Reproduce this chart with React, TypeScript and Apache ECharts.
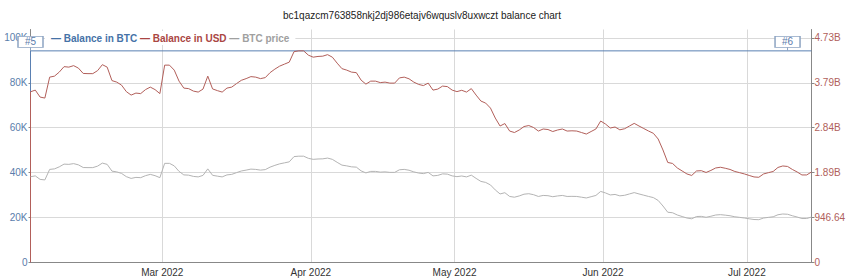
import React, { useEffect, useRef } from 'react';
import * as echarts from 'echarts';

const TITLE = 'bc1qazcm763858nkj2dj986etajv6wquslv8uxwczt balance chart';
const SERIES_NAMES = ['Balance in BTC', 'Balance in USD', 'BTC price'];
const MONTHS = ['Jan', 'Feb', 'Mar', 'Apr', 'May', 'Jun', 'Jul', 'Aug', 'Sep', 'Oct', 'Nov', 'Dec'];

// first daily observation: 1 Feb 2022, 12:00; one point per day afterwards
const START = { year: 2022, month: 1, day: 1, hour: 12 };

// Balance in BTC (thousands of BTC): funded at the start, constant afterwards
const btcBalanceDays = [0, 0, 163];
const btcBalanceK = [0, 94.22, 94.22];

// Balance in USD (billions) – first value is the moment before funding
const usdBillions = [
  0,
  3.597, 3.633, 3.486, 3.465, 3.906, 3.927, 4.012, 4.127, 4.117, 4.148,
  4.096, 3.984, 3.980, 3.980, 4.043, 4.169, 4.117, 3.833, 3.801, 3.738,
  3.601, 3.528, 3.570, 3.559, 3.643, 3.696, 3.643, 3.559, 4.159, 4.159,
  4.054, 3.822, 3.675, 3.664, 3.612, 3.591, 3.654, 3.927, 3.658, 3.622,
  3.591, 3.675, 3.696, 3.770, 3.839, 3.875, 3.917, 3.906, 3.875, 3.896,
  4.001, 4.075, 4.138, 4.180, 4.222, 4.443, 4.460, 4.460, 4.369, 4.327,
  4.342, 4.348, 4.380, 4.327, 4.201, 4.085, 4.054, 4.012, 4.001, 3.843,
  3.759, 3.822, 3.822, 3.791, 3.801, 3.780, 3.780, 3.890, 3.906, 3.871,
  3.801, 3.753, 3.728, 3.780, 3.633, 3.654, 3.717, 3.707, 3.633, 3.601,
  3.629, 3.591, 3.664, 3.528, 3.402, 3.359, 3.254, 3.044, 2.876, 2.928,
  2.770, 2.739, 2.792, 2.865, 2.886, 2.844, 2.770, 2.813, 2.802, 2.760,
  2.792, 2.813, 2.770, 2.775, 2.770, 2.739, 2.707, 2.760, 2.813, 2.981,
  2.918, 2.834, 2.855, 2.796, 2.819, 2.876, 2.932, 2.876, 2.823, 2.770,
  2.722, 2.602, 2.371, 2.108, 2.087, 1.992, 1.929, 1.866, 1.834, 1.929,
  1.935, 1.897, 1.940, 1.992, 2.007, 1.986, 1.961, 1.918, 1.893, 1.866,
  1.834, 1.803, 1.796, 1.866, 1.893, 1.918, 2.003, 2.034, 2.024, 1.961,
  1.908, 1.845, 1.845, 1.908,
];
const usdDays = [0, ...Array.from({ length: usdBillions.length - 1 }, (_, i) => i)];

// BTC price (thousands of USD), daily
const priceK = [
  38.18, 38.56, 37.00, 36.77, 41.45, 41.68, 42.58, 43.80, 43.69, 44.02,
  43.47, 42.28, 42.24, 42.24, 42.91, 44.25, 43.69, 40.68, 40.34, 39.67,
  38.22, 37.44, 37.89, 37.77, 38.66, 39.23, 38.66, 37.77, 44.14, 44.14,
  43.02, 40.56, 39.00, 38.89, 38.33, 38.11, 38.78, 41.68, 38.82, 38.44,
  38.11, 39.00, 39.23, 40.01, 40.74, 41.13, 41.57, 41.45, 41.13, 41.35,
  42.46, 43.25, 43.92, 44.36, 44.81, 47.15, 47.33, 47.33, 46.37, 45.92,
  46.08, 46.15, 46.49, 45.92, 44.59, 43.35, 43.02, 42.58, 42.46, 40.79,
  39.89, 40.56, 40.56, 40.23, 40.34, 40.12, 40.12, 41.28, 41.45, 41.08,
  40.34, 39.83, 39.57, 40.12, 38.56, 38.78, 39.45, 39.34, 38.56, 38.22,
  38.51, 38.11, 38.89, 37.44, 36.10, 35.65, 34.53, 32.31, 30.52, 31.08,
  29.40, 29.07, 29.63, 30.41, 30.63, 30.18, 29.40, 29.85, 29.74, 29.29,
  29.63, 29.85, 29.40, 29.45, 29.40, 29.07, 28.73, 29.29, 29.85, 31.64,
  30.97, 30.08, 30.30, 29.67, 29.92, 30.52, 31.12, 30.52, 29.96, 29.40,
  28.89, 27.62, 25.16, 22.37, 22.15, 21.14, 20.47, 19.80, 19.46, 20.47,
  20.54, 20.13, 20.59, 21.14, 21.30, 21.08, 20.81, 20.36, 20.09, 19.80,
  19.46, 19.14, 19.06, 19.80, 20.09, 20.36, 21.26, 21.59, 21.48, 20.81,
  20.25, 19.58, 19.58, 20.25,
];

// annotations on the BTC balance line
const annotationLabels = ['#5', '#6'];
const annotationDays = [0, 158];

// axis ticks
const leftTickStep = 20; // K
const rightTickStep = 0.94664; // B

const COLORS = {
  btc: '#4572A7',
  usd: '#AA4643',
  price: '#a0a0a0',
  btcLine: '#5a80b2',
  usdLine: '#b25f5a',
  priceLine: '#b4b4b4',
};
const FONT = '"Liberation Sans", Arial, Helvetica, sans-serif';
const DAY_MS = 86400000;

const dayToTime = (d: number) =>
  new Date(START.year, START.month, START.day + d, START.hour).getTime();

const isMultiple = (v: number, step: number) =>
  Math.abs(v / step - Math.round(v / step)) < 1e-6;

export default function App() {
  const ref = useRef<HTMLDivElement>(null);

  useEffect(() => {
    document.body.style.margin = '0';
    if (!ref.current) return;
    const chart = echarts.init(ref.current, null, { renderer: 'svg' });

    const btcData = btcBalanceK.map((v, i) => [dayToTime(btcBalanceDays[i]), v]);
    const usdData = usdBillions.map((v, i) => [dayToTime(usdDays[i]), v]);
    const priceData = priceK.map((v, i) => [dayToTime(i), v]);

    const leftMax = 103.73;
    const rightMax = 4.9099;
    const leftSplitColors = ['#d9d9d9', '#d9d9d9', '#d9d9d9', '#d9d9d9', '#d9d9d9', '#d9d9d9', 'rgba(0,0,0,0)'];

    const markData: any[] = [];
    annotationLabels.forEach((label, i) => {
      const coord = [dayToTime(annotationDays[i]), btcBalanceK[1]];
      markData.push({
        name: '',
        coord,
        symbol: 'rect',
        symbolSize: [1, 4],
        symbolOffset: [0, -2],
        itemStyle: { color: '#8da4c2', borderWidth: 0 },
        label: { show: false },
      });
      markData.push({ name: label, coord });
    });

    const option: any = {
      animation: false,
      backgroundColor: '#ffffff',
      textStyle: { fontFamily: FONT },
      title: {
        text: TITLE,
        left: 283,
        top: 10,
        padding: 0,
        textStyle: { fontSize: 10, fontWeight: 'normal', color: '#222', fontFamily: FONT },
      },
      grid: { left: 30.5, right: 38.5, top: 29.5, bottom: 16.5, containLabel: false },
      xAxis: {
        type: 'time',
        min: 'dataMin',
        max: 'dataMax',
        splitNumber: 5,
        minInterval: 28 * DAY_MS,
        maxInterval: 31 * DAY_MS,
        axisLine: { show: true, lineStyle: { color: '#888', width: 1 } },
        axisTick: { show: false },
        axisLabel: {
          color: '#333',
          fontSize: 10,
          margin: 5,
          fontFamily: FONT,
          hideOverlap: false,
          formatter: (v: number) => {
            const d = new Date(v);
            if (d.getDate() !== 1 || d.getHours() !== 0) return '';
            return MONTHS[d.getMonth()] + ' ' + d.getFullYear();
          },
        },
        splitLine: { show: true, lineStyle: { color: '#d9d9d9', width: 1 } },
      },
      yAxis: [
        {
          type: 'value',
          position: 'left',
          min: 0,
          max: leftMax,
          interval: leftTickStep,
          axisLine: { show: true, lineStyle: { color: '#888', width: 1 } },
          axisTick: { show: true, length: 2, lineStyle: { color: '#888' } },
          axisLabel: {
            color: '#5a7dab',
            fontSize: 10,
            margin: 3,
            fontFamily: FONT,
            showMaxLabel: false,
            formatter: (v: number) =>
              !isMultiple(v, leftTickStep) ? '' : v === 0 ? '0' : Math.round(v) + 'K',
          },
          splitLine: { show: true, lineStyle: { color: leftSplitColors, width: 1 } },
        },
        {
          type: 'value',
          position: 'right',
          min: 0,
          max: rightMax,
          interval: rightTickStep,
          axisLine: { show: true, lineStyle: { color: '#888', width: 1 } },
          axisTick: { show: true, length: 3, lineStyle: { color: '#888' } },
          axisLabel: {
            color: '#b0605b',
            fontSize: 10,
            margin: 3,
            fontFamily: FONT,
            showMaxLabel: false,
            formatter: (v: number) => {
              if (!isMultiple(v, rightTickStep)) return '';
              if (v === 0) return '0';
              if (v >= 1) return v.toFixed(2) + 'B';
              return (v * 1000).toFixed(2);
            },
          },
          splitLine: { show: false },
        },
      ],
      graphic: [
        {
          type: 'text',
          x: 45,
          y: 38,
          z: 100,
          silent: true,
          style: {
            text: '{a|— ' + SERIES_NAMES[0] + '} {b|— ' + SERIES_NAMES[1] + '} {c|— ' + SERIES_NAMES[2] + '}',
            verticalAlign: 'middle',
            backgroundColor: '#ffffff',
            padding: [2, 6],
            font: 'bold 10px ' + FONT,
            rich: {
              a: { fill: COLORS.btc, fontWeight: 'bold', fontSize: 10, fontFamily: FONT },
              b: { fill: COLORS.usd, fontWeight: 'bold', fontSize: 10, fontFamily: FONT },
              c: { fill: COLORS.price, fontWeight: 'bold', fontSize: 10, fontFamily: FONT },
            },
          },
        },
      ],
      series: [
        {
          name: SERIES_NAMES[0],
          type: 'line',
          yAxisIndex: 0,
          data: btcData,
          showSymbol: false,
          symbol: 'none',
          silent: true,
          lineStyle: { color: COLORS.btcLine, width: 1 },
          itemStyle: { color: COLORS.btcLine },
          z: 3,
          markPoint: {
            silent: true,
            symbol: 'rect',
            symbolSize: [25, 11],
            symbolOffset: [0, -9],
            itemStyle: { color: '#ffffff', borderColor: '#8da4c2', borderWidth: 1 },
            label: {
              show: true,
              position: 'inside',
              formatter: '{b}',
              color: '#5a7cab',
              fontSize: 10,
              fontFamily: FONT,
            },
            data: markData,
          },
        },
        {
          name: SERIES_NAMES[1],
          type: 'line',
          yAxisIndex: 1,
          data: usdData,
          showSymbol: false,
          symbol: 'none',
          silent: true,
          lineStyle: { color: COLORS.usdLine, width: 1 },
          itemStyle: { color: COLORS.usdLine },
          z: 4,
        },
        {
          name: SERIES_NAMES[2],
          type: 'line',
          yAxisIndex: 0,
          data: priceData,
          showSymbol: false,
          symbol: 'none',
          silent: true,
          lineStyle: { color: COLORS.priceLine, width: 1 },
          itemStyle: { color: COLORS.priceLine },
          z: 5,
        },
      ],
    };

    chart.setOption(option);
    return () => chart.dispose();
  }, []);

  return (
    <div
      ref={ref}
      style={{ width: 850, height: 279, position: 'fixed', left: 0, top: 0, background: '#fff' }}
    />
  );
}
